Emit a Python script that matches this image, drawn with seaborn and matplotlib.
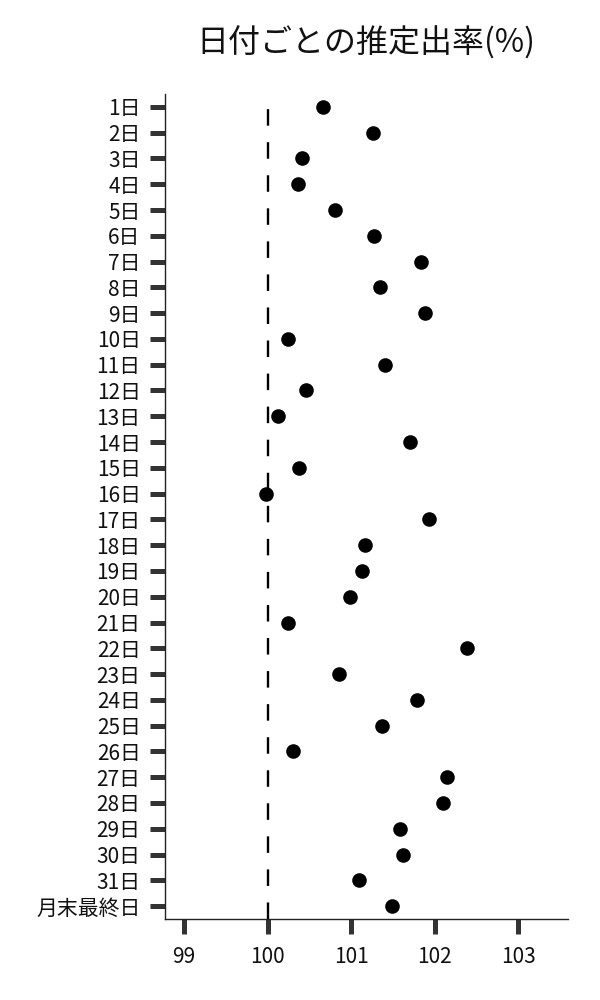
import matplotlib
matplotlib.use("Agg")
import matplotlib.pyplot as plt
import seaborn as sns
import pandas as pd

days = [f"{i}日" for i in range(1, 32)] + ["月末最終日"]
rates = [100.66, 101.26, 100.41, 100.36, 100.81, 101.27, 101.84, 101.34, 101.89, 100.24,
         101.40, 100.46, 100.12, 101.70, 100.38, 99.98, 101.93, 101.17, 101.13, 100.99,
         100.24, 102.39, 100.86, 101.79, 101.37, 100.30, 102.15, 102.10, 101.58, 101.62,
         101.09, 101.49]
x_ticks = [99, 100, 101, 102, 103]
title = "日付ごとの推定出率(%)"

df = pd.DataFrame({"day": days, "rate": rates})

sns.set_theme(style="ticks")
plt.rcParams["font.family"] = ["Noto Sans CJK JP", "DejaVu Sans"]

fig = plt.figure(figsize=(6, 10), dpi=100)
ax = fig.add_axes([0.275, 0.081, 0.672, 0.825])

sns.stripplot(data=df, x="rate", y="day", order=days, jitter=False,
              color="black", size=10.5, linewidth=0, ax=ax)
ax.axvline(100, color="black", linewidth=1.7, linestyle=(0, (7, 7)), zorder=0)

ax.set_xlim(98.77, 103.6)
ax.set_xticks(x_ticks)
ax.set_xticklabels([str(t) for t in x_ticks])
ax.set_xlabel("")
ax.set_ylabel("")
ax.tick_params(axis="both", which="major", length=10.5, width=3.6, color="#333333",
               labelsize=15, labelcolor="#111111")
ax.tick_params(axis="y", pad=7)
ax.tick_params(axis="x", pad=9)
for s in ["top", "right"]:
    ax.spines[s].set_visible(False)
for s in ["left", "bottom"]:
    ax.spines[s].set_linewidth(1.0)
    ax.spines[s].set_color("#222222")

fig.text(0.61, 0.957, title, ha="center", va="center", fontsize=23, color="#111111")

fig.savefig("out.png", dpi=100)
